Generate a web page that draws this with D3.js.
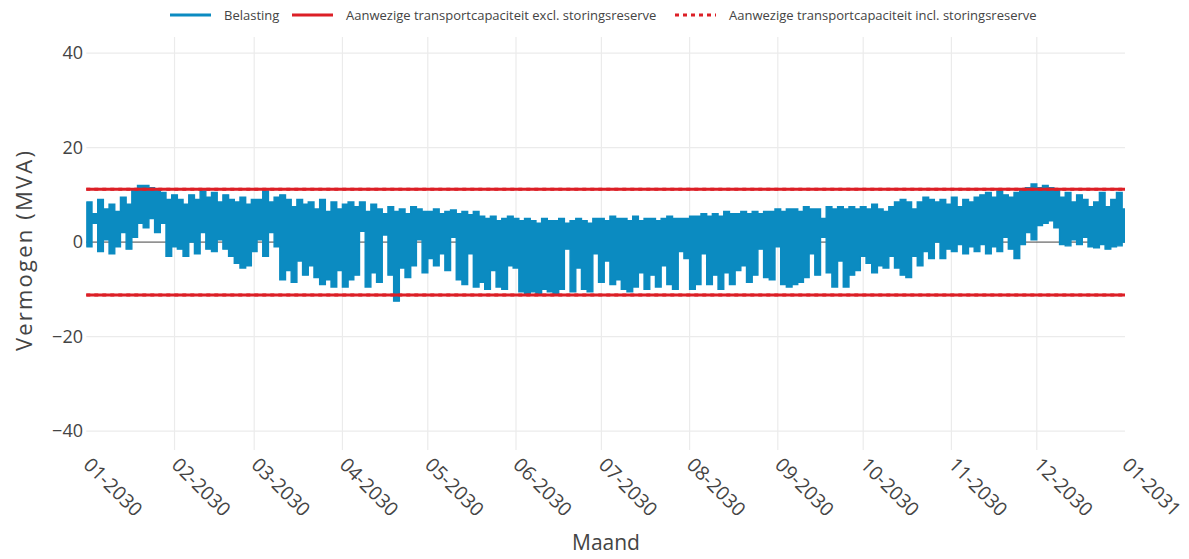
<!DOCTYPE html>
<html>
<head>
<meta charset="utf-8">
<script src="https://cdn.jsdelivr.net/npm/d3@7"></script>
<style>
  body { margin: 0; background: #fff; }
  svg { display: block; font-family: "Open Sans", sans-serif; }
</style>
</head>
<body>
<svg id="chart" width="1189" height="559"></svg>
<script>
// Belasting: per 2-daagse periode de hoogste en laagste waarde (MVA)
var loadHigh = [
  8.5, 6, 9, 7, 8, 6.5, 9.5, 8, 11, 12, 12, 11.5, 11, 10.5, 9, 10,            // jan
  9, 8, 10, 9, 10.8, 9.5, 10.5, 8.5, 10, 9, 8.5, 9.5, 8, 9,                  // feb
  9, 10.8, 8.5, 9.5, 10, 9, 7.5, 9, 8, 8.5, 7, 9, 6.5, 8.5, 7,               // mrt
  8, 8.5, 7.5, 8.5, 6.5, 8, 7, 6, 7.5, 6.5, 7, 6, 7.5, 7, 6.5,               // apr
  6.5, 7, 6, 6.5, 6.8, 6, 6.5, 5.8, 6.5, 5.5, 5, 5.5, 4.5, 5, 5.5,           // mei
  5, 4.5, 5, 4.5, 4, 5, 4.5, 4.5, 5, 4, 4.5, 5, 4.5, 4, 5,                   // jun
  5, 4.5, 5.5, 5, 5, 4.5, 5.5, 4.5, 5, 5, 4.5, 5, 5.5, 5, 5,                 // jul
  5, 5.5, 5.5, 6, 5.5, 6, 5.5, 6.5, 6, 6, 6.5, 6, 6.5, 6, 6.5,               // aug
  6.5, 7, 6.5, 7, 7, 6.5, 7.5, 7, 7, 5, 7.5, 7, 7.5, 7, 7.5,                 // sep
  7, 7.5, 7, 8, 7, 6.5, 7.5, 8.5, 9, 8.5, 7, 8.5, 9.5, 9, 8.5,               // okt
  9, 8, 9.5, 7.5, 9, 8.5, 9.5, 10, 10.5, 9.5, 10.8, 10, 9.5, 10.5, 11,       // nov
  11.5, 12.3, 11.5, 12, 11.5, 11, 9.5, 10.5, 8.5, 10, 9, 7.5, 8.5, 10.5, 7.5, 9, 10.5, 7 // dec
];
var loadLow = [
  -1, 4, -2, 0.5, -2.5, -1, 2, -1.5, 1, 4, 3, 5, 2, 4, -3, -1,
  -1.5, -3, 0, -2.5, 2, -1.5, -2, 0.5, -1.5, -3, -4.5, -5.5, -5, -2,
  0.5, -3, 2, -1, -8, -6, -8.5, -4, -7, -5, -7.5, -9, -8, -9.5, -6,
  -9.5, -8, -7, 2.3, -9.5, -6.5, -8.5, 1.5, -7, -12.5, -5.5, -7.5, -5, 0.5, -6.5,
  -3.5, -5, -2.5, -6, 1, -8, -9, -2.5, -9.5, -8.5, -10, -6, -9.5, -10, -5,
  -5.5, -10.5, -11, -10.5, -11, -10, -10.5, -11, -10, -1.5, -10.5, -5.5, -10, -10.5, -2.5,
  -8.5, -4, -9, -8, -10, -10.5, -9.5, -6.5, -10, -7, -9.5, -5, -9, -10, -2,
  -3.5, -10, -9, -2.5, -9, -7, -10, -6.5, -9, -6, -5, -8.5, -7, -1.5, -7.5,
  -8, -1, -9, -9.5, -9, -8.5, -7.5, -2.5, -7, 1, -6.5, -9.5, -4, -9.5, -7,
  -6, -3, -4.5, -6.5, -5, -5.5, -3, -5.5, -7, -7.5, -3, -5, -2, -3.5, 0,
  -3.5, -1.5, -2, -0.5, -2.5, -1, -2, -0.5, -2.5, -1, -2, 1, -1.5, -3.5, -0.5,
  2, 0.5, 3.5, 4, 4.5, 3, -0.5, -0.8, 0.5, -0.5, 1, -1, -1.2, -0.5, -1.5, -1, -0.8, 0
];
var periodDays = 2;

// Aanwezige transportcapaciteit (MVA)
var capacityExcl = [11.2, -11.2];
var capacityIncl = [11.2, -11.2];

var yTicks = [-40, -20, 0, 20, 40];
var legendItems = [
  { label: 'Belasting', color: '#0b8bc1', dash: null },
  { label: 'Aanwezige transportcapaciteit excl. storingsreserve', color: '#dc1f26', dash: null },
  { label: 'Aanwezige transportcapaciteit incl. storingsreserve', color: '#dc1f26', dash: '4,4' }
];

var svg = d3.select('#chart');
var start = new Date(2030, 0, 1), end = new Date(2031, 0, 1);

var x = d3.scaleTime().domain([start, end]).range([86.3, 1125]);
var y = d3.scaleLinear().domain([-44, 43.4]).range([450, 37]);

svg.append('rect').attr('width', 1189).attr('height', 559).attr('fill', '#fff');

// rasterlijnen
var months = d3.timeMonth.range(start, d3.timeDay.offset(end, 1));
svg.append('g').selectAll('line')
  .data(months.slice(1, -1))
  .join('line')
  .attr('x1', function(d) { return x(d); }).attr('x2', function(d) { return x(d); })
  .attr('y1', 37).attr('y2', 450)
  .attr('stroke', '#ebebeb').attr('stroke-width', 1.2);
svg.append('g').selectAll('line')
  .data(yTicks.filter(function(d) { return d !== 0; }))
  .join('line')
  .attr('x1', x.range()[0]).attr('x2', x.range()[1])
  .attr('y1', function(d) { return y(d); }).attr('y2', function(d) { return y(d); })
  .attr('stroke', '#ebebeb').attr('stroke-width', 1.2);

// y-as labels
svg.append('g').selectAll('text')
  .data(yTicks)
  .join('text')
  .attr('x', 83).attr('y', function(d) { return y(d); })
  .attr('dy', '0.35em')
  .attr('text-anchor', 'end')
  .attr('font-size', 18).attr('fill', '#444')
  .text(function(d) { return d < 0 ? '\u2212' + Math.abs(d) : d; });

// x-as labels
svg.append('g').selectAll('text')
  .data(months)
  .join('text')
  .attr('transform', function(d) { return 'translate(' + (x(d) - 4) + ',466) rotate(45)'; })
  .attr('font-size', 19.5).attr('fill', '#444')
  .text(d3.timeFormat('%m-%Y'));

// nullijn
svg.append('line')
  .attr('x1', x.range()[0]).attr('x2', x.range()[1])
  .attr('y1', y(0)).attr('y2', y(0))
  .attr('stroke', '#444').attr('stroke-width', 1);

// belasting
svg.append('clipPath').attr('id', 'clip')
  .append('rect').attr('x', x.range()[0]).attr('y', 0)
  .attr('width', x.range()[1] - x.range()[0]).attr('height', 559);

var bins = loadHigh.map(function(h, i) {
  return { t: d3.timeDay.offset(start, i * periodDays), hi: h, lo: loadLow[i] };
});
bins.push({ t: end, hi: loadHigh[loadHigh.length - 1], lo: loadLow[loadLow.length - 1] });

var band = d3.area()
  .x(function(d) { return x(d.t); })
  .y0(function(d) { return y(d.lo); })
  .y1(function(d) { return y(d.hi); })
  .curve(d3.curveStepAfter);

svg.append('path')
  .attr('clip-path', 'url(#clip)')
  .attr('d', band(bins))
  .attr('fill', legendItems[0].color)
  .attr('stroke', legendItems[0].color)
  .attr('stroke-width', 1.4)
  .attr('stroke-linejoin', 'miter');

// capaciteit
capacityIncl.forEach(function(v) {
  svg.append('line')
    .attr('x1', x.range()[0]).attr('x2', x.range()[1])
    .attr('y1', y(v)).attr('y2', y(v))
    .attr('stroke', '#dc1f26').attr('stroke-width', 3).attr('stroke-dasharray', '4,4');
});
capacityExcl.forEach(function(v) {
  svg.append('line')
    .attr('x1', x.range()[0]).attr('x2', x.range()[1])
    .attr('y1', y(v)).attr('y2', y(v))
    .attr('stroke', '#dc1f26').attr('stroke-width', 3);
});

// as-titels
svg.append('text')
  .attr('transform', 'translate(32,250) rotate(-90)')
  .attr('text-anchor', 'middle')
  .attr('font-size', 22).attr('fill', '#444')
  .attr('letter-spacing', 2.2)
  .text('Vermogen (MVA)');
svg.append('text')
  .attr('x', 606).attr('y', 550)
  .attr('text-anchor', 'middle')
  .attr('font-size', 21).attr('fill', '#444')
  .text('Maand');

// legenda
var legendX = [170, 292, 675];
var legend = svg.append('g');
legendItems.forEach(function(item, i) {
  var g = legend.append('g').attr('transform', 'translate(' + legendX[i] + ',15)');
  g.append('line').attr('x1', 0).attr('x2', 41).attr('y1', 0).attr('y2', 0)
    .attr('stroke', item.color).attr('stroke-width', 3)
    .attr('stroke-dasharray', item.dash);
  g.append('text').attr('x', 54).attr('dy', '0.35em')
    .attr('font-size', 13).attr('fill', '#444')
    .text(item.label);
});
</script>
</body>
</html>
